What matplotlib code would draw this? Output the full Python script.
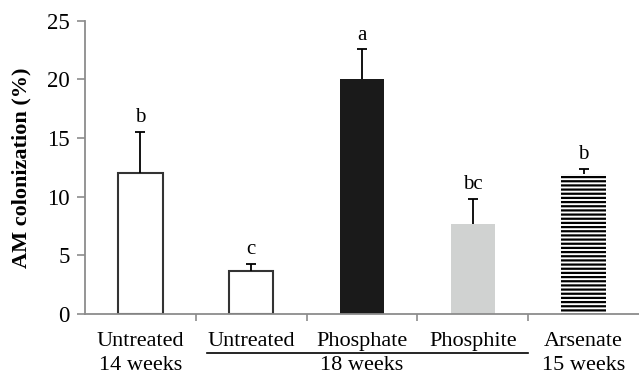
import matplotlib
matplotlib.use("Agg")
import matplotlib.pyplot as plt
from matplotlib.transforms import blended_transform_factory

plt.rcParams['font.family'] = ['Liberation Serif', 'DejaVu Serif']
plt.rcParams['hatch.linewidth'] = 1.6

categories = ["Untreated\n14 weeks", "Untreated", "Phosphate", "Phosphite", "Arsenate\n15 weeks"]
values = [12.0, 3.65, 20.0, 7.7, 11.9]
errors = [3.5, 0.6, 2.55, 2.1, 0.5]
letters = ["b", "c", "a", "bc", "b"]
group_label = "18 weeks"
ylabel = "AM colonization (%)"
yticks = [0, 5, 10, 15, 20, 25]

facecolors = ["white", "white", "#1a1a1a", "#d0d2d1", "white"]
edgecolors = ["#333333", "#333333", "#1a1a1a", "#d0d2d1", "black"]
linewidths = [1.5, 1.5, 0, 0, 0]
hatches = [None, None, None, None, "----"]

fig = plt.figure(figsize=(6.39, 3.75), dpi=100)
ax = fig.add_axes([0.133, 0.1627, 0.867, 0.782])

x = list(range(len(categories)))
tops = [v + e for v, e in zip(values, errors)]
for i in x:
    ax.bar(i, values[i], width=0.4, color=facecolors[i], edgecolor=edgecolors[i],
           linewidth=linewidths[i], hatch=hatches[i], zorder=2)
ax.errorbar(x, values, yerr=[[0] * len(errors), errors], fmt='none', ecolor='black',
            elinewidth=1.3, capsize=0, zorder=3)
ax.plot(x, tops, linestyle='none', marker='_', markersize=7, markeredgewidth=1.3,
        color='black', zorder=3)
for i in x:
    ax.text(i, tops[i] + 0.4, letters[i], ha='center', va='bottom', fontsize=15)

ax.set_xlim(-0.5, 4.5)
ax.set_ylim(0, 25)
ax.set_yticks(yticks)
ax.tick_params(axis='y', labelsize=16.5, color='#8c8c8c', length=6, width=1.2, pad=5)
ax.set_xticks(x)
ax.set_xticklabels(categories, fontsize=16, linespacing=1.35)
ax.tick_params(axis='x', which='major', length=0, pad=13)
ax.set_xticks([0.5, 1.5, 2.5, 3.5], minor=True)
ax.tick_params(axis='x', which='minor', length=5, color='#8c8c8c', width=1.2)

for s in ['top', 'right']:
    ax.spines[s].set_visible(False)
for s in ['left', 'bottom']:
    ax.spines[s].set_color('#8c8c8c')
    ax.spines[s].set_linewidth(1.3)

ax.set_ylabel(ylabel, fontsize=16, fontweight='bold', labelpad=11)

trans = blended_transform_factory(ax.transData, ax.transAxes)
ax.plot([0.6, 3.5], [-0.133, -0.133], color='black', lw=1.2, transform=trans, clip_on=False)
ax.text(2, -0.19, group_label, transform=trans, ha='center', va='baseline', fontsize=16)

fig.savefig("out.png", dpi=100)
